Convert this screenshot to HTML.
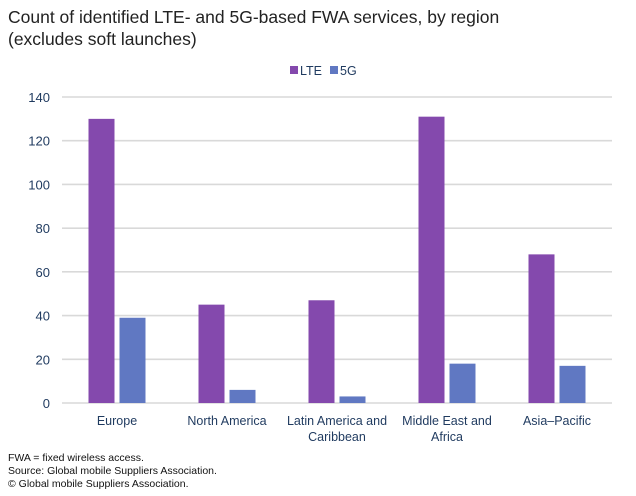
<!DOCTYPE html>
<html><head><meta charset="utf-8"><style>
body{margin:0;background:#fff;width:636px;height:496px;overflow:hidden;font-family:"Liberation Sans",sans-serif}
#title{position:absolute;left:8px;top:6px;font-size:17.5px;line-height:22px;color:#222}
.note{position:absolute;left:8px;font-size:10.5px;color:#111}
</style></head><body>
<div id="title">Count of identified LTE- and 5G-based FWA services, by region<br>(excludes soft launches)</div>
<svg id="chart" width="636" height="496" style="position:absolute;left:0;top:0"></svg>
<div class="note" style="top:452px">FWA = fixed wireless access.</div>
<div class="note" style="top:465px">Source: Global mobile Suppliers Association.</div>
<div class="note" style="top:478px">© Global mobile Suppliers Association.</div>
<script>
const categories=[["Europe"],["North America"],["Latin America and","Caribbean"],["Middle East and","Africa"],["Asia–Pacific"]];
const lteValues=[130,45,47,131,68];
const fiveGValues=[39,6,3,18,17];
const yTicks=[0,20,40,60,80,100,120,140];
const seriesNames=["LTE","5G"];
const colors=["#8449ad","#6078c2"];
const svg=document.getElementById('chart');const NS="http://www.w3.org/2000/svg";
const x0=62,x1=612,y0=403,yTop=97,ymax=140;
const y=v=>y0-(v/ymax)*(y0-yTop);
const band=(x1-x0)/categories.length;
function mk(t,a,p){const e=document.createElementNS(NS,t);for(const k in a)e.setAttribute(k,a[k]);(p||svg).appendChild(e);return e;}
yTicks.forEach(t=>{
 const l=mk('line',{x1:x0,x2:x1,y1:y(t),y2:y(t),stroke:'#d9d9d9','stroke-width':1.6});
 
 
 const tx=mk('text',{x:50,y:y(t)+5,'text-anchor':'end','font-size':13,fill:'#1f3a5f','font-family':'Liberation Sans,sans-serif'});
 tx.textContent=t;
 
 
});
const bw=26,gap=5;
[lteValues,fiveGValues].forEach((vals,s)=>{
 vals.forEach((v,i)=>{
  const c=x0+band*(i+0.5);
  const bx=s===0?c-gap/2-bw:c+gap/2;
  const r=mk('rect',{x:bx,y:y(v),width:bw,height:y0-y(v),fill:colors[s]});
  
  
 });
});
categories.forEach((lines,i)=>{
 const c=x0+band*(i+0.5);
 lines.forEach((ln,j)=>{
  const t=mk('text',{x:c,y:425+j*16,'text-anchor':'middle','font-size':12.5,fill:'#1f3a5f','font-family':'Liberation Sans,sans-serif'});
  t.textContent=ln;
  
  
 });
});
const lx=[290,330];
seriesNames.forEach((n,i)=>{
 const r=mk('rect',{x:lx[i],y:66,width:8,height:8,fill:colors[i]});
 
 
 const t=mk('text',{x:lx[i]+10,y:75,'font-size':12.5,fill:'#1f3a5f','font-family':'Liberation Sans,sans-serif'});
 t.textContent=n;
 
 
});
</script>
</body></html>
